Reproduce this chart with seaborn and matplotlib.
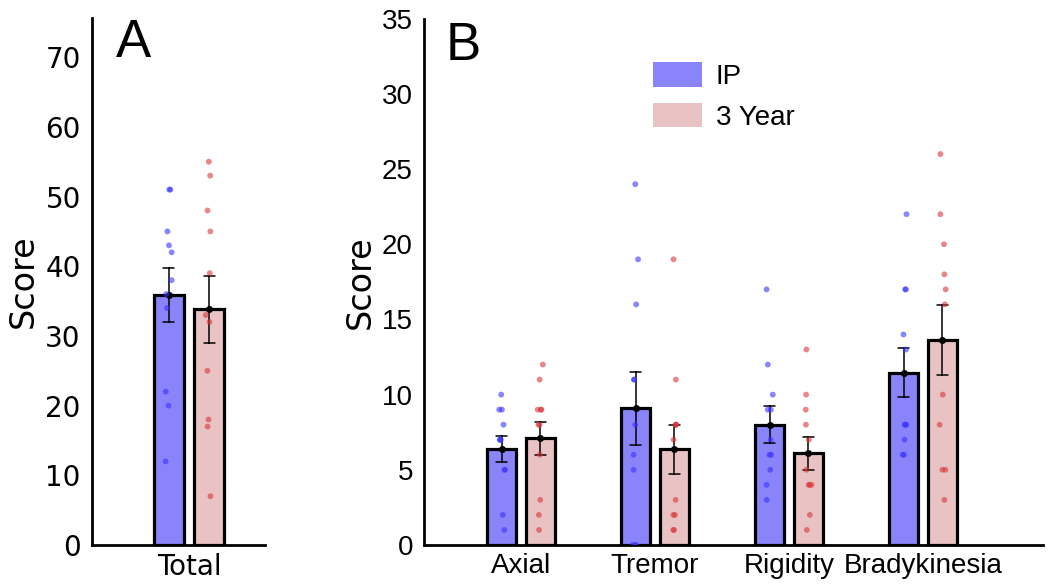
import numpy as np
import pandas as pd
import matplotlib
matplotlib.use('Agg')
import matplotlib.pyplot as plt
from matplotlib.patches import Patch
import seaborn as sns

# Scores per subject (11 subjects per visit)
visits = ['IP', '3 Year']
total_ip = [51, 51, 45, 43, 42, 38, 36, 34, 22, 20, 12]
total_3y = [55, 53, 48, 45, 39, 33, 32, 25, 18, 17, 7]

measures = ['Axial', 'Tremor', 'Rigidity', 'Bradykinesia']
axial_ip = [10, 9, 9, 8, 7, 7, 7, 5, 5, 2, 1]
axial_3y = [12, 11, 9, 9, 9, 8, 8, 6, 3, 2, 1]
tremor_ip = [24, 19, 16, 11, 11, 8, 6, 5, 0, 0, 0]
tremor_3y = [19, 11, 8, 8, 8, 7, 3, 2, 2, 1, 1]
rigidity_ip = [17, 12, 10, 9, 9, 7, 6, 6, 5, 4, 3]
rigidity_3y = [13, 10, 9, 8, 7, 5, 4, 4, 4, 2, 1]
brady_ip = [22, 17, 17, 14, 13, 8, 8, 8, 7, 6, 6]
brady_3y = [26, 22, 20, 18, 17, 16, 10, 8, 5, 5, 3]

bar_colors = {'IP': '#8a84fb', '3 Year': '#e9c3c4'}
dot_colors = {'IP': '#3a33ff', '3 Year': '#d9363b'}


def long_form(names, ip_lists, y3_lists):
    rows = []
    for name, ip, y3 in zip(names, ip_lists, y3_lists):
        rows += [(name, 'IP', v) for v in ip]
        rows += [(name, '3 Year', v) for v in y3]
    return pd.DataFrame(rows, columns=['measure', 'visit', 'score'])


df_a = long_form(['Total'], [total_ip], [total_3y])
df_b = long_form(measures,
                 [axial_ip, tremor_ip, rigidity_ip, brady_ip],
                 [axial_3y, tremor_3y, rigidity_3y, brady_3y])

sns.set_style('white')
plt.rcParams['font.family'] = ['DejaVu Sans']
plt.rcParams['text.color'] = 'black'
plt.rcParams['axes.labelcolor'] = 'black'
plt.rcParams['xtick.color'] = 'black'
plt.rcParams['ytick.color'] = 'black'

fig = plt.figure(figsize=(10.5, 5.86), dpi=100)
ax_a = fig.add_axes([0.0876, 0.070, 0.165, 0.899])
ax_b = fig.add_axes([0.4038, 0.070, 0.5895, 0.898])

np.random.seed(3)


def draw_panel(ax, df):
    sns.barplot(data=df, x='measure', y='score', hue='visit', hue_order=visits,
                palette=bar_colors, saturation=1, width=0.58, gap=0.25,
                errorbar='se', capsize=0.16, edgecolor='black', linewidth=2.3,
                err_kws={'color': 'black', 'linewidth': 1.1}, legend=False, ax=ax)
    n_before = len(ax.collections)
    sns.stripplot(data=df, x='measure', y='score', hue='visit', hue_order=visits,
                  palette=dot_colors, dodge=True, jitter=0.07, size=4.2,
                  alpha=0.6, legend=False, ax=ax)
    # pull the dodged dots in so they sit on the narrower bars
    for coll in ax.collections[n_before:]:
        off = coll.get_offsets()
        if len(off):
            centre = np.round(off[:, 0])
            off[:, 0] = centre + (off[:, 0] - centre) * 0.145 / 0.2
            coll.set_offsets(off)
    sns.pointplot(data=df, x='measure', y='score', hue='visit', hue_order=visits,
                  palette=['black', 'black'], dodge=0.29, errorbar=None,
                  linestyle='none', markers='o', markersize=3, legend=False, ax=ax)
    sns.despine(ax=ax)
    for side in ['left', 'bottom']:
        ax.spines[side].set_linewidth(2)
        ax.spines[side].set_color('black')
    ax.tick_params(axis='y', direction='in', length=7, width=2, labelsize=20, pad=8)
    ax.tick_params(axis='x', length=0, labelsize=20, pad=6)
    ax.set_xlabel('')
    ax.set_ylabel('Score', fontsize=24)


draw_panel(ax_a, df_a)
ax_a.set_xlim(-0.70, 0.55)
ax_a.set_ylim(0, 75.6)
ax_a.set_yticks(range(0, 71, 10))
ax_a.text(0.14, 1.0, 'A', transform=ax_a.transAxes, fontsize=38,
          family='Liberation Sans', va='top', ha='left')

draw_panel(ax_b, df_b)
ax_b.set_xlim(-0.724, 3.895)
ax_b.set_ylim(0, 35)
ax_b.set_yticks(range(0, 36, 5))
for lab in ax_b.get_xticklabels() + ax_b.get_yticklabels():
    lab.set_family('Liberation Sans')
ax_b.text(0.035, 0.995, 'B', transform=ax_b.transAxes, fontsize=38,
          family='Liberation Sans', va='top', ha='left')

handles = [Patch(facecolor=bar_colors[v], edgecolor='none') for v in visits]
ax_b.legend(handles, visits, loc='upper left', bbox_to_anchor=(0.33, 0.965),
            frameon=False, handlelength=1.75, handleheight=1.0,
            labelspacing=0.45, handletextpad=0.5,
            prop={'family': 'Liberation Sans', 'size': 20})

fig.savefig('out.png', dpi=100)
